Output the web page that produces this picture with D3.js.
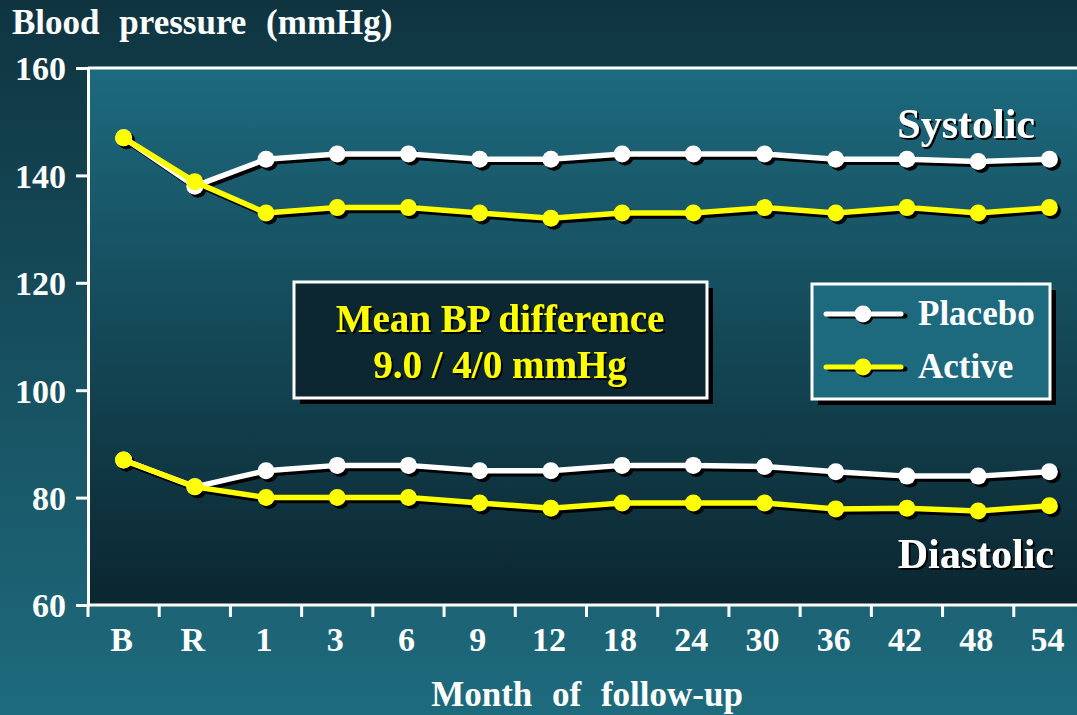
<!DOCTYPE html>
<html>
<head>
<meta charset="utf-8">
<script src="https://cdn.jsdelivr.net/npm/d3@7"></script>
<style>
  html, body { margin: 0; padding: 0; background: #15414f; }
  svg { display: block; }
  svg text { font-family: "Liberation Serif", "Times New Roman", serif; font-weight: bold; }
</style>
</head>
<body>
<div id="chart"></div>
<script>
// months of follow-up (B = baseline, R = randomisation)
const months = ['B', 'R', '1', '3', '6', '9', '12', '18', '24', '30', '36', '42', '48', '54'];

const systolicPlacebo = [147, 138, 143, 144, 144, 143, 143, 144, 144, 144, 143, 143, 142.6, 143];
const systolicActive  = [147, 138.8, 133, 134, 134, 133, 132, 133, 133, 134, 133, 134, 133, 134];
const diastolicPlacebo = [87, 82, 85, 86, 86, 85, 85, 86, 86, 85.8, 84.8, 84, 84, 84.8];
const diastolicActive  = [87, 82, 80, 80, 80, 79, 78, 79, 79, 79, 77.9, 78, 77.5, 78.5];

const yTicks = [60, 80, 100, 120, 140, 160];

const width = 1077;
const height = 715;
const margin = {top: 68, right: -8, bottom: 110, left: 88};
const chartWidth = width - margin.left - margin.right;
const chartHeight = height - margin.top - margin.bottom;

const placeboColor = '#ffffff';
const activeColor = '#ffff00';
const serif = '"Liberation Serif", "Times New Roman", serif';

const svg = d3.select('#chart')
  .append('svg')
    .attr('width', width)
    .attr('height', height);

const defs = svg.append('defs');

const bgGrad = defs.append('linearGradient')
    .attr('id', 'bg-grad')
    .attr('x1', 0).attr('y1', 0).attr('x2', 0).attr('y2', 1);
bgGrad.append('stop').attr('offset', '0%').attr('stop-color', '#0f3440');
bgGrad.append('stop').attr('offset', '100%').attr('stop-color', '#1e6b7e');

const plotGrad = defs.append('linearGradient')
    .attr('id', 'plot-grad')
    .attr('x1', 0).attr('y1', 0).attr('x2', 0).attr('y2', 1);
plotGrad.append('stop').attr('offset', '0%').attr('stop-color', '#1d6a7e');
plotGrad.append('stop').attr('offset', '100%').attr('stop-color', '#0b2630');

const shadow = defs.append('filter')
    .attr('id', 'text-shadow')
    .attr('x', '-10%').attr('y', '-10%').attr('width', '130%').attr('height', '140%');
shadow.append('feDropShadow')
    .attr('dx', 2).attr('dy', 2).attr('stdDeviation', 0)
    .attr('flood-color', '#000').attr('flood-opacity', 1);

svg.append('rect')
    .attr('width', width)
    .attr('height', height)
    .attr('fill', 'url(#bg-grad)');

const container = svg.append('g')
    .attr('transform', `translate(${margin.left},${margin.top})`);

container.append('rect')
    .attr('width', chartWidth)
    .attr('height', chartHeight)
    .attr('fill', 'url(#plot-grad)');

// scales
const xScale = d3.scaleBand()
    .domain(months)
    .range([0, chartWidth]);

const yScale = d3.scaleLinear()
    .domain([60, 160])
    .range([chartHeight, 0]);

const xCenter = (m) => xScale(m) + xScale.bandwidth() / 2;

// top border of the plot box
container.append('line')
    .attr('x1', 0).attr('x2', chartWidth)
    .attr('y1', 0).attr('y2', 0)
    .attr('stroke', '#fff')
    .attr('stroke-width', 3);

// y axis
const yAxis = d3.axisLeft(yScale)
    .tickValues(yTicks)
    .tickSize(12)
    .tickPadding(10);

const yAxisGroup = container.append('g').call(yAxis);
yAxisGroup.select('.domain').attr('stroke', '#fff').attr('stroke-width', 3);
yAxisGroup.selectAll('.tick line').attr('stroke', '#fff').attr('stroke-width', 3);
yAxisGroup.selectAll('.tick text')
    .style('font-family', serif)
    .attr('fill', '#fff')
    .attr('font-size', 34)
    .attr('dy', '0.35em');

// x axis: ticks at band boundaries, labels at band centres
const xAxisGroup = container.append('g')
    .attr('transform', `translate(0,${chartHeight})`);

xAxisGroup.append('line')
    .attr('x1', 0).attr('x2', chartWidth)
    .attr('stroke', '#fff')
    .attr('stroke-width', 3);

xAxisGroup.selectAll('.x-tick')
  .data(months)
  .join('line')
    .attr('class', 'x-tick')
    .attr('x1', d => xScale(d))
    .attr('x2', d => xScale(d))
    .attr('y1', 0)
    .attr('y2', 12)
    .attr('stroke', '#fff')
    .attr('stroke-width', 3);

xAxisGroup.selectAll('.x-label')
  .data(months)
  .join('text')
    .attr('class', 'x-label')
    .attr('x', d => xCenter(d) - 2)
    .attr('y', 46)
    .attr('text-anchor', 'middle')
    .attr('font-size', 34)
    .attr('fill', '#fff')
    .text(d => d);

// axis titles
svg.append('text')
    .attr('x', 12)
    .attr('y', 34)
    .attr('font-size', 35)
    .attr('word-spacing', 11)
    .attr('fill', '#fff')
    .text('Blood pressure (mmHg)');

svg.append('text')
    .attr('x', 587)
    .attr('y', 706)
    .attr('text-anchor', 'middle')
    .attr('font-size', 35)
    .attr('word-spacing', 11)
    .attr('fill', '#fff')
    .text('Month of follow-up');

// series
const series = [
  {values: systolicPlacebo, color: placeboColor},
  {values: systolicActive, color: activeColor},
  {values: diastolicPlacebo, color: placeboColor},
  {values: diastolicActive, color: activeColor}
];

const line = d3.line()
    .x((d, i) => xCenter(months[i]))
    .y(d => yScale(d));

const seriesGroup = container.append('g');

// shadows first
series.forEach(s => {
  const g = seriesGroup.append('g').attr('transform', 'translate(3,3)');
  g.append('path')
      .datum(s.values)
      .attr('d', line)
      .attr('fill', 'none')
      .attr('stroke', '#000')
      .attr('stroke-width', 5.5);
  g.selectAll('circle')
    .data(s.values)
    .join('circle')
      .attr('cx', (d, i) => xCenter(months[i]))
      .attr('cy', d => yScale(d))
      .attr('r', 8.5)
      .attr('fill', '#000');
});

series.forEach(s => {
  const g = seriesGroup.append('g');
  g.append('path')
      .datum(s.values)
      .attr('d', line)
      .attr('fill', 'none')
      .attr('stroke', s.color)
      .attr('stroke-width', 5.5);
  g.selectAll('circle')
    .data(s.values)
    .join('circle')
      .attr('cx', (d, i) => xCenter(months[i]))
      .attr('cy', d => yScale(d))
      .attr('r', 8.5)
      .attr('fill', s.color);
});

// group labels
svg.append('text')
    .attr('x', 1035)
    .attr('y', 138)
    .attr('text-anchor', 'end')
    .attr('font-size', 42)
    .attr('fill', '#fff')
    .attr('filter', 'url(#text-shadow)')
    .text('Systolic');

svg.append('text')
    .attr('x', 1054)
    .attr('y', 568)
    .attr('text-anchor', 'end')
    .attr('font-size', 42)
    .attr('fill', '#fff')
    .attr('filter', 'url(#text-shadow)')
    .text('Diastolic');

// mean difference box
const box = svg.append('g').attr('transform', 'translate(294,282)');
box.append('rect')
    .attr('x', 6).attr('y', 6)
    .attr('width', 413).attr('height', 116)
    .attr('fill', '#000');
box.append('rect')
    .attr('width', 413).attr('height', 116)
    .attr('fill', '#0c2731')
    .attr('stroke', '#fff')
    .attr('stroke-width', 3);
box.selectAll('text')
  .data(['Mean BP difference', '9.0 / 4/0 mmHg'])
  .join('text')
    .attr('x', 206)
    .attr('y', (d, i) => 50 + i * 46)
    .attr('text-anchor', 'middle')
    .attr('font-size', 39)
    .attr('filter', 'url(#text-shadow)')
    .attr('fill', activeColor)
    .text(d => d);

// legend
const legendItems = [
  {label: 'Placebo', color: placeboColor},
  {label: 'Active', color: activeColor}
];

const legend = svg.append('g').attr('transform', 'translate(812,284)');
legend.append('rect')
    .attr('x', 6).attr('y', 6)
    .attr('width', 238).attr('height', 115)
    .attr('fill', '#000');
legend.append('rect')
    .attr('width', 238).attr('height', 115)
    .attr('fill', '#1d6a7e')
    .attr('stroke', '#fff')
    .attr('stroke-width', 3);

const legendRow = legend.selectAll('.legend-row')
  .data(legendItems)
  .join('g')
    .attr('class', 'legend-row')
    .attr('transform', (d, i) => `translate(0,${30 + i * 53})`);

legendRow.append('line')
    .attr('x1', 16).attr('x2', 91)
    .attr('transform', 'translate(2,2)')
    .attr('stroke', '#000')
    .attr('stroke-width', 5)
    .attr('stroke-linecap', 'round');
legendRow.append('circle')
    .attr('cx', 53).attr('cy', 2).attr('r', 8.5)
    .attr('fill', '#000');
legendRow.append('line')
    .attr('x1', 14).attr('x2', 89)
    .attr('stroke', d => d.color)
    .attr('stroke-width', 5)
    .attr('stroke-linecap', 'round');
legendRow.append('circle')
    .attr('cx', 51).attr('r', 8.5)
    .attr('fill', d => d.color);
legendRow.append('text')
    .attr('x', 106)
    .attr('y', 11)
    .attr('font-size', 35)
    .attr('fill', '#fff')
    .text(d => d.label);
</script>
</body>
</html>
